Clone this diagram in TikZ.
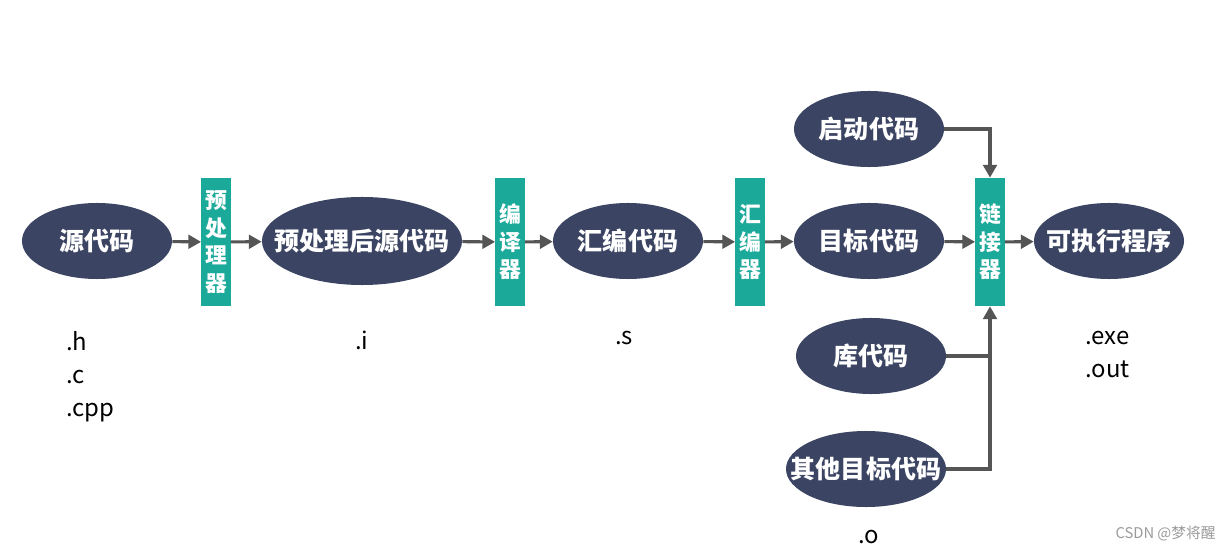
\documentclass[tikz,border=0pt]{standalone}
\usepackage{fontspec}
\usepackage{tikz}
\usepackage{xcolor}
\usetikzlibrary{arrows.meta,positioning,shapes,calc}
\setmainfont{Noto Sans CJK SC}
\definecolor{navy}{HTML}{3B4462}
\definecolor{teal}{HTML}{1BA99A}
\definecolor{arrgray}{HTML}{555555}
\definecolor{markgray}{HTML}{9A9A9A}
\newcommand{\ztext}[1]{\makebox[0pt]{#1}}
\tikzset{
  stage/.style={ellipse,fill=navy,inner sep=0pt,
                minimum width=3.75cm,minimum height=1.9cm,
                text=white,font=\fontsize{17.8}{20}\selectfont\bfseries},
  tool/.style={rectangle,fill=teal,inner sep=0pt,
               minimum width=0.73cm,minimum height=3.2cm,
               align=center,text=white,
               font=\fontsize{15.5}{19.5}\selectfont\bfseries},
  ext/.style={align=left,anchor=north west,inner sep=0pt,
              font=\fontsize{17}{23.4}\selectfont},
  flowarr/.style={-{Triangle[length=3.2mm,width=3.4mm]},line width=2.2pt,color=arrgray},
  joinline/.style={line width=2.2pt,color=arrgray}
}
\begin{document}
\begin{tikzpicture}[x=0.025cm,y=-0.025cm]
  \useasboundingbox (0,0) rectangle (1230,550);
  % main row
  \node[stage] (src) at (97,241) {\ztext{源代码}};
  \node[tool] (pre) at (216,242) {预\\处\\理\\器};
  \node[stage,minimum width=5cm,minimum height=2.2cm] (presrc) at (362,241) {\ztext{预处理后源代码}};
  \node[tool] (comp) at (510,242) {编\\译\\器};
  \node[stage] (asm) at (628,241) {\ztext{汇编代码}};
  \node[tool] (as) at (750,242) {汇\\编\\器};
  \node[stage] (obj) at (869,241) {\ztext{目标代码}};
  \node[tool] (link) at (990,242) {链\\接\\器};
  \node[stage] (exe) at (1109,241) {\ztext{可执行程序}};
  % extra inputs of the linker
  \node[stage] (boot) at (869,129) {\ztext{启动代码}};
  \node[stage] (lib) at (871,356) {\ztext{库代码}};
  \node[stage,minimum width=4cm] (other) at (866,469) {\ztext{其他目标代码}};
  % file suffixes
  \node[ext] (hsuf) at (66,331) {.h\\.c\\.cpp};
  \node[ext] (isuf) at (355,331) {.i};
  \node[ext] (ssuf) at (615,331) {.s};
  \node[ext] (esuf) at (1085,331) {.exe\\.out};
  \node[ext] (osuf) at (858,530) {.o};
  \node[anchor=south east,inner sep=0pt,text=markgray,
        font=\fontsize{10.5}{12}\selectfont] (mark) at (1216,541) {CSDN @梦将醒};
  % arrows
  \draw[flowarr] (src) -- (pre);
  \draw[flowarr] (pre) -- (presrc);
  \draw[flowarr] (presrc) -- (comp);
  \draw[flowarr] (comp) -- (asm);
  \draw[flowarr] (asm) -- (as);
  \draw[flowarr] (as) -- (obj);
  \draw[flowarr] (obj) -- (link);
  \draw[flowarr] (link) -- (exe);
  \draw[flowarr] (boot.east) -| (link.north);
  \draw[joinline] (lib.east) -- (lib.east -| link.south);
  \draw[flowarr] (other.east) -| (link.south);
\end{tikzpicture}
\end{document}
